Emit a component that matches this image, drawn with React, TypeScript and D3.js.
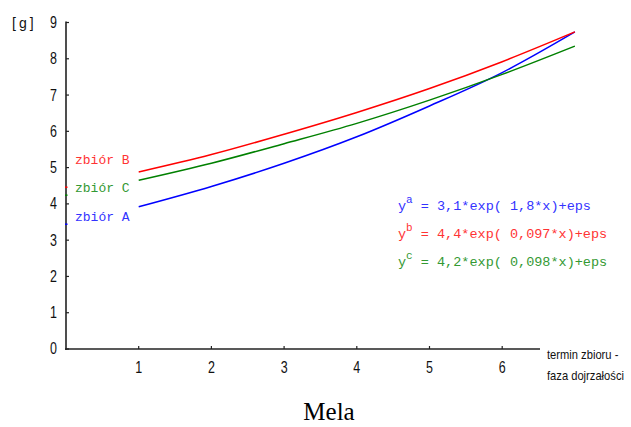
import React from "react";
import * as d3 from "d3";

const xValues = [1, 2, 3, 4, 5, 6, 7];
const seriesA = [3.92, 4.48, 5.12, 5.85, 6.7, 7.62, 8.74];
const seriesB = [4.88, 5.36, 5.92, 6.52, 7.18, 7.92, 8.74];
const seriesC = [4.65, 5.12, 5.66, 6.22, 6.86, 7.57, 8.35];
const intercepts = [3.44, 4.46, 4.24]; // A, B, C marks on y axis
const yTicks = [0, 1, 2, 3, 4, 5, 6, 7, 8, 9];
const xTicks = [1, 2, 3, 4, 5, 6];
const seriesNames = ["zbiór A", "zbiór B", "zbiór C"];
const formulas = [
  { sup: "a", text: " = 3,1*exp( 1,8*x)+eps" },
  { sup: "b", text: " = 4,4*exp( 0,097*x)+eps" },
  { sup: "c", text: " = 4,2*exp( 0,098*x)+eps" },
];

const colors = ["#0000ff", "#ff0000", "#008000"];
const textColors = ["#3333ff", "#ff3333", "#339933"];

export default function App() {
  const W = 631;
  const H = 427;
  const x = d3.scaleLinear().domain([0, 6.52]).range([66, 540]);
  const y = d3.scaleLinear().domain([0, 9]).range([349, 22.5]);
  const line = d3
    .line<number>()
    .x((_, i) => x(xValues[i]))
    .y((d) => y(d))
    .curve(d3.curveMonotoneX);
  const all = [seriesA, seriesB, seriesC];
  const mono = "'Liberation Mono', 'DejaVu Sans Mono', monospace";
  const sans = "'Liberation Sans', Arial, sans-serif";
  const sx = 0.78;
  const legendOrder = [1, 2, 0];
  const legendY = [164, 192, 221];
  return (
    <svg
      width={W}
      height={H}
      style={{ position: "absolute", left: 0, top: 0, background: "#fff" }}
    >
      <rect width={W} height={H} fill="#fff" />
      {all.map((s, i) => (
        <path key={i} d={line(s) || ""} fill="none" stroke={colors[i]} strokeWidth={1.5} />
      ))}
      <line x1={x(0)} x2={x(0)} y1={y(9) - 1} y2={y(0) + 1} stroke="#222" strokeWidth={1.6} />
      <line x1={x(0) - 1} x2={540} y1={y(0)} y2={y(0)} stroke="#222" strokeWidth={1.6} />
      {yTicks.map((t) => (
        <g key={t}>
          <line x1={x(0)} x2={x(0) + 3} y1={y(t)} y2={y(t)} stroke="#222" strokeWidth={1.2} />
          <text x={57} y={y(t) + 5.5} textAnchor="end" fontFamily={sans} fontSize={16} fill="#111" transform={`translate(${57 * (1 - sx)},0) scale(${sx},1)`}>
            {t}
          </text>
        </g>
      ))}
      {xTicks.map((t) => (
        <g key={t}>
          <line x1={x(t)} x2={x(t)} y1={y(0)} y2={y(0) - 3} stroke="#222" strokeWidth={1.2} />
          <text x={x(t)} y={373} textAnchor="middle" fontFamily={sans} fontSize={16} fill="#111" transform={`translate(${x(t) * (1 - sx)},0) scale(${sx},1)`}>
            {t}
          </text>
        </g>
      ))}
      {intercepts.map((v, i) => (
        <line key={i} x1={x(0) - 1} x2={x(0) + 1.5} y1={y(v)} y2={y(v)} stroke={colors[i]} strokeWidth={1.5} />
      ))}
      <text x={12} y={28} fontFamily={sans} fontSize={14} fill="#111" letterSpacing={3}>
        [g]
      </text>
      {legendOrder.map((idx, k) => (
        <text key={idx} x={75} y={legendY[k]} fontFamily={mono} fontSize={13} fill={textColors[idx]}>
          {seriesNames[idx]}
        </text>
      ))}
      {formulas.map((f, i) => (
        <text key={i} x={398} y={210 + i * 28} fontFamily={mono} fontSize={13.5} fill={textColors[i]}>
          y
          <tspan dy={-7} fontSize={11}>{f.sup}</tspan>
          <tspan dy={7}>{f.text}</tspan>
        </text>
      ))}
      <text x={547} y={359} fontFamily={sans} fontSize={13} fill="#111" transform={`translate(${547 * 0.14},0) scale(0.86,1)`}>
        termin zbioru -
      </text>
      <text x={547} y={380} fontFamily={sans} fontSize={13} fill="#111" transform={`translate(${547 * 0.14},0) scale(0.86,1)`}>
        faza dojrzałości
      </text>
      <text x={329} y={420} textAnchor="middle" fontFamily="'Liberation Serif', 'Times New Roman', serif" fontSize={25} fill="#000">
        Mela
      </text>
    </svg>
  );
}
